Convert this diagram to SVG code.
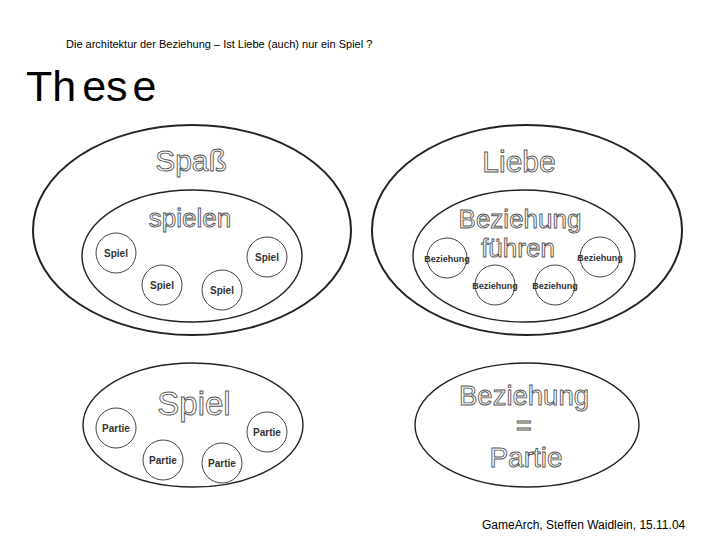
<svg xmlns="http://www.w3.org/2000/svg" width="720" height="540" viewBox="0 0 720 540">
<style>
.outer{fill:none;stroke:#222;stroke-width:2}
.inner{fill:none;stroke:#222;stroke-width:1.4}
.c{fill:none;stroke:#444;stroke-width:1}
.big{font-family:"Liberation Sans",Arial,sans-serif;fill:#fff;stroke:#555;stroke-width:0.9;text-anchor:middle}
.sm{font-family:"Liberation Sans",Arial,sans-serif;font-weight:bold;fill:#333;text-anchor:middle}
.plain{font-family:"Liberation Sans",Arial,sans-serif;fill:#000}
</style>
<rect width="720" height="540" fill="#fff"/>
<text class="plain" x="66" y="48" font-size="11">Die architektur der Beziehung – Ist Liebe (auch) nur ein Spiel ?</text>
<text class="plain" x="26" y="101" font-size="43"><tspan>Th</tspan><tspan dx="6">es</tspan><tspan dx="5">e</tspan></text>
<g id="spass">
<ellipse class="outer" cx="192" cy="230" rx="159" ry="105"/>
<text class="big" x="191" y="171" font-size="30">Spaß</text>
</g>
<g id="spielen">
<ellipse class="inner" cx="192" cy="256" rx="110" ry="66"/>
<text class="big" x="190" y="227" font-size="26">spielen</text>
</g>
<g id="spiel1"><circle class="c" cx="116" cy="253" r="20"/><text class="sm" x="116" y="257" font-size="10">Spiel</text></g>
<g id="spiel2"><circle class="c" cx="162" cy="285" r="20"/><text class="sm" x="162" y="289" font-size="10">Spiel</text></g>
<g id="spiel3"><circle class="c" cx="222" cy="290" r="20"/><text class="sm" x="222" y="294" font-size="10">Spiel</text></g>
<g id="spiel4"><circle class="c" cx="267" cy="257" r="20"/><text class="sm" x="267" y="261" font-size="10">Spiel</text></g>
<g id="liebe">
<ellipse class="outer" cx="527" cy="230" rx="155" ry="105"/>
<text class="big" x="519" y="172" font-size="30">Liebe</text>
</g>
<g id="beziehung-fuehren">
<ellipse class="inner" cx="524" cy="256" rx="111" ry="66"/>
<text class="big" x="520" y="228" font-size="26">Beziehung</text>
<text class="big" x="518" y="257" font-size="26">führen</text>
</g>
<g id="bez1"><circle class="c" cx="447" cy="258" r="20"/><text class="sm" x="447" y="262" font-size="9">Beziehung</text></g>
<g id="bez2"><circle class="c" cx="495" cy="285" r="20"/><text class="sm" x="495" y="289" font-size="9">Beziehung</text></g>
<g id="bez3"><circle class="c" cx="555" cy="285" r="20"/><text class="sm" x="555" y="289" font-size="9">Beziehung</text></g>
<g id="bez4"><circle class="c" cx="600" cy="257" r="20"/><text class="sm" x="600" y="261" font-size="9">Beziehung</text></g>
<g id="spiel">
<ellipse class="inner" cx="193" cy="425" rx="110" ry="62"/>
<text class="big" x="194" y="415" font-size="33">Spiel</text>
</g>
<g id="partie1"><circle class="c" cx="116" cy="428" r="20"/><text class="sm" x="116" y="432" font-size="10">Partie</text></g>
<g id="partie2"><circle class="c" cx="163" cy="460" r="20"/><text class="sm" x="163" y="464" font-size="10">Partie</text></g>
<g id="partie3"><circle class="c" cx="222" cy="463" r="20"/><text class="sm" x="222" y="467" font-size="10">Partie</text></g>
<g id="partie4"><circle class="c" cx="267" cy="432" r="20"/><text class="sm" x="267" y="436" font-size="10">Partie</text></g>
<g id="beziehung-partie">
<ellipse class="inner" cx="527" cy="425" rx="112" ry="62"/>
<text class="big" x="524" y="405" font-size="27.5">Beziehung</text>
<text class="big" x="524" y="435" font-size="27">=</text>
<text class="big" x="526" y="467" font-size="28">Partie</text>
</g>
<text class="plain" x="482" y="529" font-size="12">GameArch, Steffen Waidlein, 15.11.04</text>
</svg>
